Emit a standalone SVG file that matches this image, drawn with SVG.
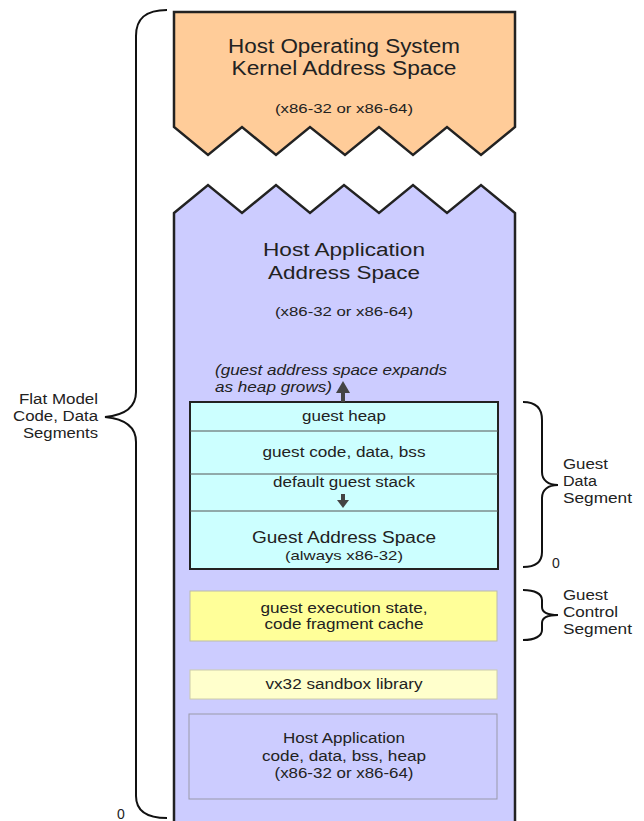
<svg xmlns="http://www.w3.org/2000/svg" width="644" height="821" viewBox="0 0 644 821">
  <style>
    text { font-family: "Liberation Sans", Arial, Helvetica, sans-serif; fill: #222; }
    .c { text-anchor: middle; }
    .e { text-anchor: end; }
    .outline { stroke: #222; stroke-width: 2.5; stroke-linejoin: miter; }
    .brace { fill: none; stroke: #111; stroke-width: 2; }
    .div { stroke: #555; stroke-width: 1; }
    .arrow { fill: #444; }
  </style>
  <rect width="644" height="821" fill="#ffffff"/>

  <!-- host kernel region, torn bottom edge -->
  <g id="kernel">
    <path class="outline" fill="#ffcc99" d="M174,12 L515,12 L515,127 L481,155 L447,127 L413,155 L379,127 L345,155 L310,127 L276,155 L242,127 L208,155 L174,127 Z"/>
    <text class="c" x="344" y="53" font-size="20" textLength="232" lengthAdjust="spacingAndGlyphs">Host Operating System</text>
    <text class="c" x="344" y="75" font-size="20" textLength="225" lengthAdjust="spacingAndGlyphs">Kernel Address Space</text>
    <text class="c" x="344" y="113" font-size="13" textLength="138" lengthAdjust="spacingAndGlyphs">(x86-32 or x86-64)</text>
  </g>

  <!-- host application region, torn top edge -->
  <g id="host-app-space">
    <path class="outline" fill="#ccccff" d="M174,213 L208,185 L242,213 L276,185 L310,213 L344,185 L379,213 L413,185 L447,213 L481,185 L515,213 L515,830 L174,830 Z"/>
    <text class="c" x="344" y="256" font-size="18" textLength="162" lengthAdjust="spacingAndGlyphs">Host Application</text>
    <text class="c" x="344" y="279" font-size="18" textLength="152" lengthAdjust="spacingAndGlyphs">Address Space</text>
    <text class="c" x="344" y="316" font-size="13" textLength="138" lengthAdjust="spacingAndGlyphs">(x86-32 or x86-64)</text>
  </g>

  <!-- guest address space stack -->
  <g id="guest-space">
    <rect x="190" y="402" width="308" height="167" fill="#ccffff" stroke="#222" stroke-width="2"/>
    <line class="div" x1="190" y1="431" x2="498" y2="431"/>
    <line class="div" x1="190" y1="474" x2="498" y2="474"/>
    <line class="div" x1="190" y1="511" x2="498" y2="511"/>
    <text class="c" x="344" y="421" font-size="14" textLength="84" lengthAdjust="spacingAndGlyphs">guest heap</text>
    <text class="c" x="344" y="457" font-size="14" textLength="163" lengthAdjust="spacingAndGlyphs">guest code, data, bss</text>
    <text class="c" x="344" y="487" font-size="14" textLength="142" lengthAdjust="spacingAndGlyphs">default guest stack</text>
    <text class="c" x="344" y="543" font-size="16.5" textLength="184" lengthAdjust="spacingAndGlyphs">Guest Address Space</text>
    <text class="c" x="344" y="560" font-size="13" textLength="118" lengthAdjust="spacingAndGlyphs">(always x86-32)</text>
  </g>

  <!-- heap growth note -->
  <g id="growth-note">
    <text x="215" y="375" font-size="14" font-style="italic" textLength="232" lengthAdjust="spacingAndGlyphs">(guest address space expands</text>
    <text x="215" y="392" font-size="14" font-style="italic" textLength="117" lengthAdjust="spacingAndGlyphs">as heap grows)</text>
  </g>

  <g id="exec-state">
    <rect x="190" y="591" width="307" height="50" fill="#ffff99" stroke="#bbbbaa" stroke-width="1"/>
    <text class="c" x="344" y="613" font-size="14" textLength="167" lengthAdjust="spacingAndGlyphs">guest execution state,</text>
    <text class="c" x="344" y="629" font-size="14" textLength="159" lengthAdjust="spacingAndGlyphs">code fragment cache</text>
  </g>

  <g id="sandbox-lib">
    <rect x="190" y="670" width="307" height="29" fill="#ffffcc" stroke="#ccccaa" stroke-width="1"/>
    <text class="c" x="344" y="689" font-size="14" textLength="157" lengthAdjust="spacingAndGlyphs">vx32 sandbox library</text>
  </g>

  <g id="host-app-code">
    <rect x="189" y="714" width="308" height="85" fill="#ccccff" stroke="#9999aa" stroke-width="1"/>
    <text class="c" x="344" y="743" font-size="14" textLength="122" lengthAdjust="spacingAndGlyphs">Host Application</text>
    <text class="c" x="344" y="761" font-size="14" textLength="164" lengthAdjust="spacingAndGlyphs">code, data, bss, heap</text>
    <text class="c" x="344" y="778" font-size="14" textLength="139" lengthAdjust="spacingAndGlyphs">(x86-32 or x86-64)</text>
  </g>

  <!-- arrows and braces -->
  <g id="connectors">
    <rect class="arrow" x="341" y="392" width="4" height="10"/>
    <polygon class="arrow" points="336,393 350,393 343,381"/>
    <rect class="arrow" x="341" y="494" width="4" height="7"/>
    <polygon class="arrow" points="337,500 349,500 343,508"/>

    <path class="brace" d="M167,10 C146,10 136,18 136,36 L136,392 C136,406 126,415 105,417 C126,419 136,428 136,442 L136,796 C136,811 146,818 167,818"/>
    <path class="brace" d="M523,402 C535,402 542,408 542,420 L542,472 C542,480 548,485 558,485 C548,485 542,490 542,498 L542,552 C542,562 535,567 523,567"/>
    <path class="brace" d="M523,590 C535,590 542,594 542,600 L542,607 C542,612 548,615 558,615 C548,615 542,618 542,623 L542,630 C542,636 535,640 523,640"/>
  </g>

  <g id="labels">
    <text class="e" x="98" y="404" font-size="14" textLength="79" lengthAdjust="spacingAndGlyphs">Flat Model</text>
    <text class="e" x="98" y="421" font-size="14" textLength="85" lengthAdjust="spacingAndGlyphs">Code, Data</text>
    <text class="e" x="98" y="438" font-size="14" textLength="75" lengthAdjust="spacingAndGlyphs">Segments</text>
    <text x="117" y="819" font-size="14">0</text>

    <text x="563" y="469" font-size="14" textLength="45" lengthAdjust="spacingAndGlyphs">Guest</text>
    <text x="563" y="486" font-size="14" textLength="34" lengthAdjust="spacingAndGlyphs">Data</text>
    <text x="563" y="503" font-size="14" textLength="69" lengthAdjust="spacingAndGlyphs">Segment</text>
    <text x="552" y="568" font-size="14">0</text>

    <text x="563" y="600" font-size="14" textLength="45" lengthAdjust="spacingAndGlyphs">Guest</text>
    <text x="563" y="617" font-size="14" textLength="55" lengthAdjust="spacingAndGlyphs">Control</text>
    <text x="563" y="634" font-size="14" textLength="69" lengthAdjust="spacingAndGlyphs">Segment</text>
  </g>
</svg>
